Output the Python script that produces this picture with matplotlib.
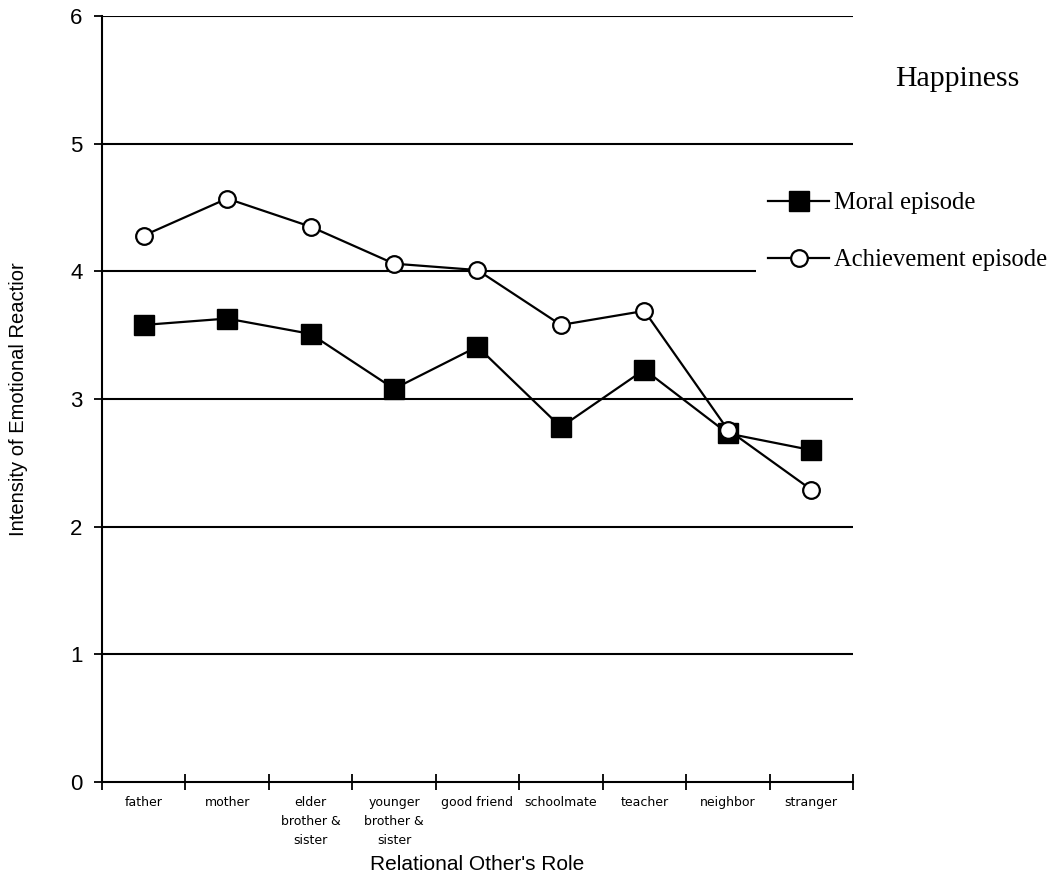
import numpy as np
from matplotlib import pyplot as plt
from matplotlib.ticker import FixedLocator

roles = ["father", "mother", "elder\nbrother &\nsister", "younger\nbrother &\nsister",
         "good friend", "schoolmate", "teacher", "neighbor", "stranger"]
moral = [3.58, 3.63, 3.51, 3.08, 3.41, 2.78, 3.23, 2.73, 2.60]
achievement = [4.28, 4.57, 4.35, 4.06, 4.01, 3.58, 3.69, 2.76, 2.29]

fig = plt.figure(figsize=(10.51, 8.73), dpi=100)
ax = fig.add_axes([0.097, 0.1042, 0.7146, 0.8775])

x = np.arange(len(roles))
for yv in range(1, 7):
    ax.axhline(yv, color="black", lw=1.5, zorder=1)

ax.plot(x, moral, color="black", lw=1.6, marker="s", markersize=14,
        markerfacecolor="black", label="Moral episode", zorder=3)
ax.plot(x, achievement, color="black", lw=1.6, marker="o", markersize=12,
        markerfacecolor="white", markeredgewidth=1.6,
        label="Achievement episode", zorder=3)

ax.set_xlim(-0.5, 8.5)
ax.set_ylim(0, 6)
for side in ["top", "right"]:
    ax.spines[side].set_visible(False)
ax.spines["left"].set_linewidth(1.5)
ax.spines["bottom"].set_linewidth(1.5)

ax.set_yticks(range(0, 7))
ax.tick_params(axis="y", direction="out", length=6, width=1.3,
               labelsize=16, pad=8)
for lab in ax.get_yticklabels():
    lab.set_family("Liberation Sans")

ax.set_xticks(x)
ax.set_xticklabels(roles, fontsize=9, family="DejaVu Sans", linespacing=1.6)
ax.tick_params(axis="x", which="major", length=0, pad=10)
ax.xaxis.set_minor_locator(FixedLocator(np.arange(-0.5, 9.0, 1.0)))
ax.tick_params(axis="x", which="minor", direction="inout", length=12, width=1.3)

ax.set_xlabel("Relational Other's Role", fontsize=15, family="Liberation Sans",
              labelpad=6)
ax.set_ylabel("Intensity of Emotional Reactior", fontsize=14.5,
              family="Liberation Sans", labelpad=30)

leg = ax.legend(loc="upper left", bbox_to_anchor=(0.7195, 0.794),
                bbox_transform=fig.transFigure, frameon=True,
                fancybox=False, edgecolor="none", facecolor="white", framealpha=1,
                prop={"family": "Liberation Serif", "size": 17.7},
                handlelength=2.45, handletextpad=0.2, labelspacing=1.42,
                borderpad=0.5, borderaxespad=0)
leg.set_zorder(5)

fig.text(0.8515, 0.91, "Happiness", fontsize=21.5, family="Liberation Serif",
         ha="left", va="center")

fig.savefig("out.png", dpi=100)
